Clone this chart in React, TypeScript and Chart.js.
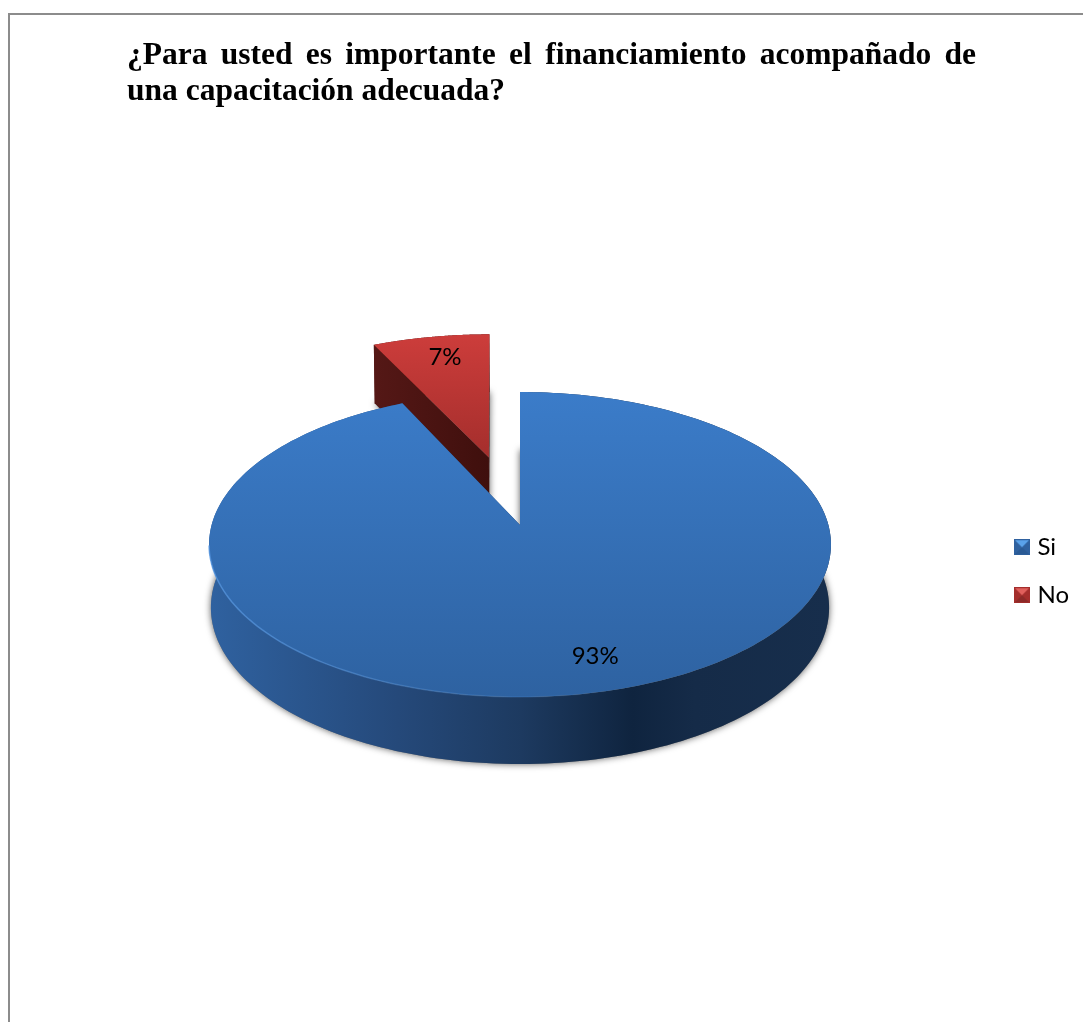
import React, { useEffect, useRef } from "react";
import { Chart, registerables } from "chart.js";

Chart.register(...registerables);

const titleLine1 = "¿Para usted es importante el financiamiento acompañado de";
const titleLine2 = "una capacitación adecuada?";
const categories = ["Si", "No"];
const values = [93, 7];
const percentLabels = ["93%", "7%"];
const explode = [0, 0.49];
const radiusScale = [1, 1.04];
const shear = [0, 0.024];
const labelRadius = [0.805, 0.845];
const labelNudgeX = [15, 2];
const swatchColors = ["#3c7dc9", "#c43a38"];

// projection of the flat pie on a tilted plane
const TIP_X = 520;
const TIP_Y = 525;
const RX = 308.4;
const RY = 150;
const PERSPECTIVE = 0.128;
const TITLE_WIDTH = 849;
const TITLE_SIZE = 31.5;

type P = [number, number];

function project(u: number, v: number): P {
  const d = 1 - PERSPECTIVE * v;
  return [TIP_X + (RX * u) / d, TIP_Y + (RY * v) / d];
}
function down(p: P, v: number): P {
  const depth = 62.5 + 4.5 * Math.max(-1, Math.min(1, v));
  return [TIP_X + (p[0] - TIP_X) * 0.994, p[1] + depth];
}

function sliceRim(el: any, idx: number) {
  const ex = explode[idx];
  const s = radiusScale[idx];
  const k = shear[idx];
  const mid = (el.startAngle + el.endAngle) / 2;
  const ox = Math.cos(mid) * ex;
  const oy = Math.sin(mid) * ex;
  const tip = project(ox, oy);
  const n = 240;
  const top: P[] = [];
  const bottom: P[] = [];
  for (let i = 0; i <= n; i++) {
    const a = el.startAngle + ((el.endAngle - el.startAngle) * i) / n;
    const raw = project(Math.cos(a) * s + ox, Math.sin(a) * s + oy);
    const p: P = [raw[0] + (raw[1] - tip[1]) * k, raw[1]];
    top.push(p);
    bottom.push(down(p, Math.sin(a)));
  }
  const tipB = down(tip, 0);
  return { top, bottom, tip, tipB };
}

function poly(ctx: CanvasRenderingContext2D, pts: P[]) {
  ctx.beginPath();
  pts.forEach((p, i) => (i ? ctx.lineTo(p[0], p[1]) : ctx.moveTo(p[0], p[1])));
  ctx.closePath();
}

function grad(ctx: CanvasRenderingContext2D, x0: number, y0: number, x1: number, y1: number, stops: [number, string][]) {
  const g = ctx.createLinearGradient(x0, y0, x1, y1);
  stops.forEach(([o, c]) => g.addColorStop(o, c));
  return g;
}

function drawSlice(ctx: CanvasRenderingContext2D, idx: number, r: ReturnType<typeof sliceRim>) {
  const { top, bottom, tip, tipB } = r;
  const last = top.length - 1;
  const side =
    idx === 0
      ? grad(ctx, 212, 0, 830, 0, [
          [0, "#2f619f"],
          [0.3, "#25497a"],
          [0.5, "#1d3a60"],
          [0.68, "#0f243f"],
          [0.78, "#152b48"],
          [1, "#172e4c"],
        ])
      : grad(ctx, 373, 0, 489, 0, [
          [0, "#551816"],
          [1, "#3f0f0d"],
        ]);
  ctx.fillStyle = side;
  poly(ctx, [...top, ...[...bottom].reverse()]);
  ctx.fill();
  poly(ctx, [tip, top[0], bottom[0], tipB]);
  ctx.fill();
  poly(ctx, [tip, top[last], bottom[last], tipB]);
  ctx.fill();

  ctx.fillStyle =
    idx === 0
      ? grad(ctx, 0, 392, 0, 697, [
          [0, "#3b7cc9"],
          [1, "#2e62a1"],
        ])
      : grad(ctx, 0, 333, 0, 458, [
          [0, "#cd3d3b"],
          [1, "#a42e2c"],
        ]);
  poly(ctx, [tip, ...top]);
  ctx.fill();

  if (idx === 0) {
    ctx.save();
    ctx.lineWidth = 1.5;
    ctx.strokeStyle = grad(ctx, 210, 0, 620, 0, [
      [0, "rgba(84,150,226,0.75)"],
      [1, "rgba(84,150,226,0)"],
    ]);
    const front = top.filter((p) => p[1] > 545 && p[0] < 640);
    ctx.beginPath();
    front.forEach((p, i) => (i ? ctx.lineTo(p[0], p[1]) : ctx.moveTo(p[0], p[1])));
    ctx.stroke();
    ctx.restore();
  }
}

const pseudo3d = {
  id: "pseudo3d",
  beforeDatasetsDraw(chart: any) {
    const ctx: CanvasRenderingContext2D = chart.ctx;
    const arcs = chart.getDatasetMeta(0).data;
    const rims = arcs.map((el: any, i: number) => sliceRim(el, i));
    ctx.save();
    // soft shadow thrown by the underside of each slice
    rims.forEach((r: any) => {
      ctx.save();
      ctx.shadowColor = "rgba(0,0,0,0.65)";
      ctx.shadowBlur = 7;
      ctx.fillStyle = "#777";
      poly(ctx, [r.tipB, ...r.bottom]);
      ctx.fill();
      ctx.restore();
    });
    drawSlice(ctx, 1, rims[1]);
    drawSlice(ctx, 0, rims[0]);
    ctx.fillStyle = "#000";
    ctx.font = "24px Lato";
    ctx.textAlign = "center";
    ctx.textBaseline = "middle";
    arcs.forEach((el: any, i: number) => {
      const mid = (el.startAngle + el.endAngle) / 2;
      const t = labelRadius[i] + explode[i];
      const p = project(Math.cos(mid) * t, Math.sin(mid) * t);
      ctx.fillText(percentLabels[i], p[0] + labelNudgeX[i], p[1]);
    });
    ctx.restore();
    return false;
  },
  beforeDraw(chart: any) {
    const box = chart.titleBlock;
    if (box && !box.__justified) {
      box.__justified = true;
      const orig = box.draw.bind(box);
      box.draw = () => {
        const ctx = chart.ctx;
        ctx.save();
        ctx.font = `bold ${TITLE_SIZE}px 'Liberation Serif'`;
        ctx.wordSpacing = "0px";
        const w = ctx.measureText(titleLine1).width;
        ctx.wordSpacing = `${(TITLE_WIDTH - w) / 7}px`;
        orig();
        ctx.restore();
      };
    }
  },
};

function swatch(color: string, light: string, dark: string) {
  const c = document.createElement("canvas");
  c.width = 16;
  c.height = 16;
  const x = c.getContext("2d")!;
  x.fillStyle = color;
  x.fillRect(0, 0, 16, 16);
  x.fillStyle = light;
  x.beginPath();
  x.moveTo(1, 1);
  x.lineTo(15, 1);
  x.lineTo(8, 8);
  x.closePath();
  x.fill();
  x.fillStyle = dark;
  x.beginPath();
  x.moveTo(1, 15);
  x.lineTo(15, 15);
  x.lineTo(8, 8);
  x.closePath();
  x.fill();
  return c;
}

export default function App() {
  const ref = useRef<HTMLCanvasElement>(null);
  useEffect(() => {
    if (!ref.current) return;
    const marks = [swatch("#2f619f", "#5aa2ea", "#2a5a94"), swatch("#a42e2c", "#e0605c", "#8c2a28")];
    const chart = new Chart(ref.current, {
      type: "pie",
      data: {
        labels: categories,
        datasets: [{ data: values, backgroundColor: swatchColors, borderWidth: 0 }],
      },
      plugins: [pseudo3d],
      options: {
        responsive: false,
        animation: false,
        devicePixelRatio: 1,
        layout: { padding: { left: 127, right: 4, top: 0, bottom: 0 } },
        plugins: {
          tooltip: { enabled: false },
          title: {
            display: true,
            text: titleLine1,
            align: "start",
            color: "#000",
            font: { family: "'Liberation Serif'", size: TITLE_SIZE, weight: "bold", lineHeight: 1.15 },
            padding: { top: 38, bottom: 0 },
          },
          subtitle: {
            display: true,
            text: titleLine2,
            align: "start",
            color: "#000",
            font: { family: "'Liberation Serif'", size: TITLE_SIZE, weight: "bold", lineHeight: 1.15 },
            padding: { top: 0, bottom: 10 },
          },
          legend: {
            position: "right",
            fullSize: false,
            labels: {
              usePointStyle: true,
              pointStyleWidth: 7,
              boxHeight: 16,
              padding: 24,
              color: "#000",
              font: { family: "Lato", size: 24, lineHeight: 1.17 },
              generateLabels: () =>
                categories.map((text, i) => ({
                  text,
                  fillStyle: swatchColors[i],
                  strokeStyle: "transparent",
                  lineWidth: 0,
                  pointStyle: marks[i],
                  datasetIndex: 0,
                  index: i,
                })),
            },
          },
        },
      },
    } as any);
    return () => chart.destroy();
  }, []);
  return (
    <>
      <div
        style={{
          position: "absolute",
          left: 8,
          top: 13,
          width: 1075,
          height: 1009,
          boxSizing: "border-box",
          borderLeft: "2px solid #8c8c8c",
          borderTop: "2px solid #8c8c8c",
        }}
      />
      <canvas
        ref={ref}
        width={1083}
        height={1022}
        style={{ position: "absolute", left: 0, top: 0, display: "block", width: 1083, height: 1022 }}
      />
    </>
  );
}
